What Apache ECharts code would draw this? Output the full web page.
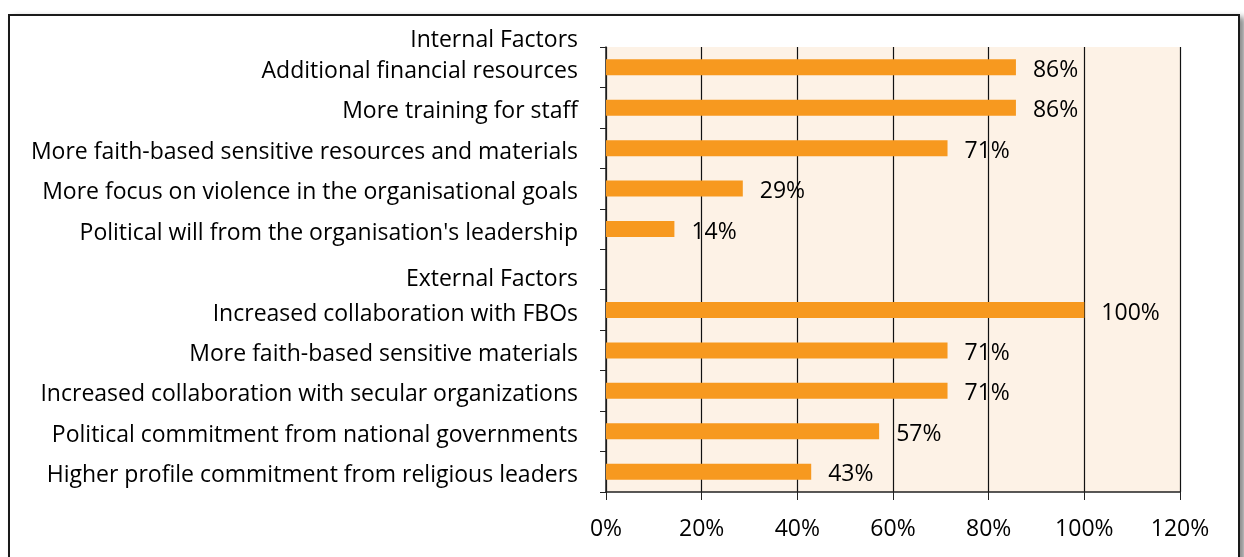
<!DOCTYPE html>
<html>
<head>
<meta charset="utf-8">
<script src="https://cdn.jsdelivr.net/npm/echarts@6/dist/echarts.min.js"></script>
<style>
  html, body { margin: 0; padding: 0; background: #fff; }
  #frame {
    position: absolute; left: 8px; top: 14px; width: 1228px; height: 560px;
    border: 2px solid #1a1a1a; box-shadow: 5px 3px 6px rgba(0,0,0,0.45);
  }
  #chart { position: absolute; left: 0; top: 0; width: 1244px; height: 557px; }
</style>
</head>
<body>
<div id="frame"></div>
<div id="chart"></div>
<script>
  // categories top to bottom
  var categories = [
    'Additional financial resources',
    'More training for staff',
    'More faith-based sensitive resources and materials',
    'More focus on violence in the organisational goals',
    "Political will from the organisation's leadership",
    'External Factors',
    'Increased collaboration with FBOs',
    'More faith-based sensitive materials',
    'Increased collaboration with secular organizations',
    'Political commitment from national governments',
    'Higher profile commitment from religious leaders'
  ];
  var values = [85.7, 85.7, 71.4, 28.6, 14.3, null, 100, 71.4, 71.4, 57.1, 42.9];
  var xTicks = [0, 20, 40, 60, 80, 100, 120];

  var font = '"Open Sans", sans-serif';
  var fs = 23;
  var chart = echarts.init(document.getElementById('chart'));

  chart.setOption({
    animation: false,
    grid: { left: 606, top: 47, right: 64, bottom: 65, backgroundColor: '#fdf2e6', show: true, borderWidth: 0 },
    graphic: [{
      type: 'text', right: 1244 - 578, top: 29,
      style: { text: 'Internal Factors', font: fs + 'px ' + font, fill: '#000' }
    }],
    xAxis: {
      type: 'value', min: xTicks[0], max: xTicks[xTicks.length - 1], interval: 20,
      axisLine: { show: true, lineStyle: { color: '#222', width: 1.5 } },
      axisTick: { show: true, length: 8, lineStyle: { color: '#222' } },
      splitLine: { show: true, lineStyle: { color: '#111', width: 1.2 } },
      axisLabel: { formatter: '{value}%', fontSize: fs, fontFamily: font, color: '#000', margin: 26 }
    },
    yAxis: {
      type: 'category', inverse: true, data: categories,
      axisLine: { show: true, lineStyle: { color: '#222', width: 1.5 } },
      axisTick: { show: true, length: 6, lineStyle: { color: '#222' } },
      axisLabel: {
        fontSize: fs, fontFamily: font, color: '#000', margin: 28,
        formatter: function (v) { return v === 'External Factors' ? '{ext|' + v + '}' : '{n|' + v + '}'; },
        rich: {
          n: { fontSize: fs, fontFamily: font, color: '#000', padding: [8, 0, 0, 0] },
          ext: { fontSize: fs, fontFamily: font, color: '#000', padding: [20, 0, 0, 0] }
        }
      }
    },
    series: [{
      type: 'bar', data: values, barWidth: 16,
      itemStyle: { color: '#f7991f' },
      label: {
        show: true, position: 'right', distance: 17, offset: [0, 3],
        fontSize: fs, fontFamily: font, color: '#000',
        formatter: function (p) { return p.value == null ? '' : Math.round(p.value) + '%'; }
      }
    }]
  });
</script>
</body>
</html>
